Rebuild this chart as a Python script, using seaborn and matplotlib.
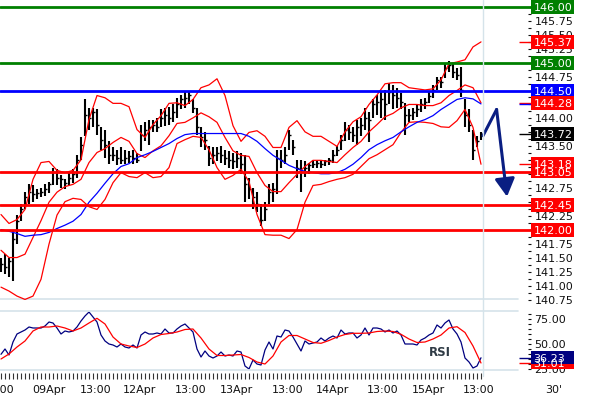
import numpy as np
import matplotlib
matplotlib.use("Agg")
import matplotlib.pyplot as plt
import matplotlib.transforms as mtransforms
from matplotlib.lines import Line2D
from matplotlib.patches import Rectangle
import seaborn as sns

# barras (una cada ~30 min)
highs = [141.51, 141.57, 141.51, 141.98, 142.28, 142.46, 142.69, 142.82, 142.80, 142.73,
         142.76, 142.82, 142.87, 143.12, 143.09, 142.98, 142.91, 143.05, 143.09, 143.35,
         143.66, 144.34, 144.19, 144.19, 144.16, 143.84, 143.80, 143.59, 143.48, 143.44,
         143.48, 143.44, 143.41, 143.44, 143.39, 143.89, 143.93, 143.98, 143.98, 144.01,
         144.16, 144.19, 144.21, 144.25, 144.37, 144.42, 144.48, 144.50, 144.34, 144.19,
         143.84, 143.76, 143.50, 143.48, 143.48, 143.50, 143.44, 143.41, 143.39, 143.41,
         143.39, 143.35, 142.94, 142.76, 142.69, 142.46, 142.50, 142.82, 142.85, 143.44,
         143.44, 143.48, 143.80, 143.62, 143.26, 143.26, 143.23, 143.21, 143.26, 143.26,
         143.25, 143.26, 143.30, 143.44, 143.50, 143.71, 143.93, 143.89, 143.84, 143.98,
         144.01, 144.19, 144.12, 144.34, 144.42, 144.48, 144.51, 144.64, 144.60, 144.55,
         144.46, 144.28, 144.16, 144.19, 144.25, 144.34, 144.37, 144.48, 144.60, 144.75,
         144.75, 145.00, 145.03, 145.00, 144.91, 144.92, 144.34, 144.16, 143.80, 143.68,
         143.76]
lows = [141.26, 141.21, 141.16, 141.09, 141.75, 142.16, 142.37, 142.46, 142.51, 142.55,
        142.59, 142.62, 142.66, 142.80, 142.80, 142.76, 142.73, 142.80, 142.85, 142.94,
        143.26, 143.68, 143.80, 143.84, 143.71, 143.44, 143.30, 143.18, 143.23, 143.16,
        143.18, 143.19, 143.21, 143.18, 143.21, 143.41, 143.59, 143.53, 143.75, 143.76,
        143.84, 143.87, 143.89, 143.94, 144.01, 144.16, 144.19, 144.25, 144.10, 143.71,
        143.48, 143.44, 143.14, 143.18, 143.23, 143.21, 143.16, 143.12, 143.09, 143.12,
        143.00, 142.51, 142.55, 142.37, 142.32, 142.07, 142.16, 142.46, 142.50, 142.64,
        143.12, 143.18, 143.44, 143.35, 142.94, 142.68, 142.96, 143.00, 143.12, 143.12,
        143.12, 143.14, 143.16, 143.21, 143.32, 143.44, 143.59, 143.62, 143.57, 143.53,
        143.68, 143.80, 143.57, 144.01, 144.07, 144.01, 143.98, 144.25, 144.16, 144.19,
        144.16, 143.71, 143.94, 143.98, 144.03, 144.12, 144.16, 144.28, 144.37, 144.51,
        144.55, 144.73, 144.84, 144.73, 144.69, 144.39, 143.85, 143.75, 143.26, 143.48,
        143.62]
closes = [141.39, 141.34, 141.44, 141.84, 142.16, 142.37, 142.59, 142.69, 142.64, 142.66,
          142.69, 142.73, 142.82, 143.05, 142.94, 142.91, 142.84, 142.94, 143.00, 143.26,
          143.53, 144.07, 144.01, 144.12, 143.89, 143.62, 143.53, 143.35, 143.35, 143.30,
          143.26, 143.30, 143.32, 143.30, 143.26, 143.71, 143.80, 143.84, 143.89, 143.85,
          144.01, 144.07, 144.01, 144.12, 144.25, 144.34, 144.37, 144.42, 144.19, 143.84,
          143.66, 143.62, 143.30, 143.35, 143.39, 143.34, 143.30, 143.26, 143.23, 143.30,
          143.18, 142.82, 142.73, 142.59, 142.46, 142.19, 142.37, 142.69, 142.73, 143.30,
          143.26, 143.35, 143.71, 143.48, 143.12, 143.05, 143.12, 143.16, 143.19, 143.21,
          143.19, 143.23, 143.26, 143.35, 143.44, 143.62, 143.80, 143.76, 143.71, 143.84,
          143.89, 144.01, 143.98, 144.25, 144.30, 144.34, 144.25, 144.48, 144.42, 144.37,
          144.30, 144.07, 144.07, 144.12, 144.16, 144.25, 144.30, 144.41, 144.51, 144.69,
          144.66, 144.91, 144.96, 144.84, 144.78, 144.51, 144.07, 143.89, 143.44, 143.59,
          143.72]

# bandas de Bollinger y media (cada 2 barras)
band_idx = list(range(0, 121, 2))
band_upper = [142.28, 142.12, 142.19, 142.37, 142.91, 143.21, 143.23, 143.07, 143.03, 143.07,
              143.26, 143.98, 144.41, 144.37, 144.27, 144.27, 144.21, 143.80, 143.66, 143.89,
              144.05, 144.27, 144.28, 144.23, 144.34, 144.55, 144.60, 144.71, 144.41, 143.87,
              143.59, 143.75, 143.78, 143.68, 143.48, 143.48, 143.84, 143.96, 143.76, 143.68,
              143.68, 143.59, 143.50, 143.76, 143.94, 144.03, 144.25, 144.42, 144.62, 144.64,
              144.64, 144.55, 144.53, 144.51, 144.53, 144.69, 144.98, 145.01, 145.05, 145.28,
              145.37]
band_mid = [141.64, 141.51, 141.51, 141.57, 141.87, 142.17, 142.50, 142.68, 142.78, 142.82,
            142.91, 143.21, 143.39, 143.46, 143.57, 143.66, 143.59, 143.37, 143.30, 143.42,
            143.51, 143.69, 143.91, 143.93, 144.01, 144.10, 144.03, 143.93, 143.66, 143.42,
            143.34, 143.32, 143.03, 142.80, 142.69, 142.69, 142.85, 143.00, 143.14, 143.25,
            143.25, 143.23, 143.21, 143.35, 143.48, 143.59, 143.76, 143.89, 144.03, 144.09,
            144.19, 144.25, 144.25, 144.23, 144.23, 144.28, 144.41, 144.50, 144.60, 144.55,
            144.28]
band_lower = [140.98, 140.91, 140.82, 140.76, 140.82, 141.12, 141.75, 142.27, 142.51, 142.57,
              142.55, 142.42, 142.37, 142.55, 142.85, 143.03, 142.96, 142.94, 143.03, 142.94,
              142.96, 143.12, 143.55, 143.62, 143.68, 143.66, 143.44, 143.12, 142.91, 142.98,
              143.09, 142.87, 142.28, 141.92, 141.91, 141.91, 141.85, 142.01, 142.50, 142.80,
              142.82, 142.87, 142.91, 142.94, 143.00, 143.14, 143.28, 143.35, 143.44, 143.53,
              143.75, 143.93, 143.94, 143.93, 143.91, 143.85, 143.84, 143.96, 144.16, 143.84,
              143.18]
ma_blue = [142.01, 141.98, 141.94, 141.89, 141.91, 141.92, 141.96, 142.03, 142.09, 142.16,
           142.28, 142.50, 142.66, 142.84, 143.01, 143.14, 143.19, 143.30, 143.35, 143.41,
           143.48, 143.55, 143.64, 143.71, 143.73, 143.73, 143.73, 143.73, 143.73, 143.73,
           143.73, 143.68, 143.59, 143.46, 143.34, 143.25, 143.16, 143.10, 143.05, 143.03,
           143.01, 143.01, 143.03, 143.09, 143.18, 143.30, 143.44, 143.53, 143.60, 143.66,
           143.76, 143.85, 143.93, 143.98, 144.05, 144.16, 144.25, 144.34, 144.37, 144.35,
           144.26]

rsi = [39.7, 45, 39, 52, 60, 62, 64, 67, 66, 66,
       66, 68, 72, 71, 66, 60, 63, 62, 63, 67,
       73, 78, 82, 77, 72, 59, 53, 50, 49, 47,
       50, 47, 46, 49, 46, 59, 62, 60, 60, 61,
       60, 65, 61, 61, 65, 68, 70, 66, 62, 45,
       37, 43, 38, 36, 38, 42, 38, 39, 38, 43,
       42, 28, 25, 34, 30, 29, 44, 52, 45, 58,
       57, 64, 63, 57, 50, 43, 53, 50, 51, 52,
       56, 53, 56, 58, 56, 64, 60, 61, 61, 56,
       59, 66, 59, 66, 66, 65, 62, 64, 61, 63,
       59, 50, 50, 50, 49, 54, 56, 59, 61, 69,
       66, 71, 74, 65, 60, 52, 36, 32, 26, 28,
       36.23]
rsi_signal = [35, 40, 47, 53, 63, 67, 67, 68, 66, 63,
              66, 71, 75.7, 70, 57, 50, 48, 46.5, 50, 56,
              59.5, 60.5, 62, 64.5, 65, 56, 45, 38.5, 38.5, 39,
              39.5, 36.5, 32, 30, 38, 52, 58.5, 58.5, 55, 51.5,
              50.7, 53.5, 57, 59.5, 60.7, 60.7, 61, 62.5, 63, 62.5,
              59.7, 55, 51.5, 52, 55, 59, 66, 67.3, 61.5, 48,
              31.01]

# niveles horizontales
green_levels = [146.00, 145.00]
blue_levels = [144.50]
red_levels = [143.05, 142.45, 142.00]

# etiquetas del eje derecho (valor, color)
price_tags = [(146.00, "#008000"), (145.37, "#ff0000"), (145.00, "#008000"),
              (144.50, "#0000ff"), (144.28, "#ff0000"), (143.72, "#000000"),
              (143.18, "#ff0000"), (143.05, "#ff0000"), (142.45, "#ff0000"),
              (142.00, "#ff0000")]
rsi_tags = [(31.01, "#ff0000"), (36.23, "#000080")]

# flecha de prevision
arrow_x = [120.5, 123.9, 126.5]
arrow_y = [143.69, 144.16, 142.60]

time_pos = [-0.5, 11.9, 23.6, 34.75, 47.5, 58.75, 71.75, 82.9, 95.5, 106.75, 119.5]
time_labels = ["13:00", "09Apr", "13:00", "12Apr", "13:00", "13Apr", "13:00",
               "14Apr", "13:00", "15Apr", "13:00"]

sns.set_theme(style="white")
plt.rcParams['font.family'] = ['DejaVu Sans']

W, H = 590, 400
fig = plt.figure(figsize=(5.9, 4.0), dpi=100)


def frac(x0, y0, w, h):
    return [x0 / W, 1 - (y0 + h) / H, w / W, h / H]


ax = fig.add_axes(frac(0, 0, 531, 300))
ax_rsi = fig.add_axes(frac(0, 311, 531, 59))
XMIN, XMAX = -0.25, 132.5
PMIN, PMAX = 140.765, 146.12
RMIN, RMAX = 24, 83
sep_col = "#d5e3ea"
navy = "#0a1e82"

idx = np.arange(len(closes))

# precio
ax.vlines(idx, lows, highs, color="black", lw=1.5, zorder=2)
ax.hlines(closes, idx, idx + 0.5, color="black", lw=1.0, zorder=2)
for vals in (band_upper, band_mid, band_lower):
    sns.lineplot(x=band_idx, y=vals, ax=ax, color="#ff0000", lw=0.9,
                 estimator=None, legend=False, zorder=3)
sns.lineplot(x=band_idx, y=ma_blue, ax=ax, color="#0000ff", lw=0.9,
             estimator=None, legend=False, zorder=3)

for v in green_levels:
    ax.axhline(v, color="#008000", lw=2, zorder=4)
for v in blue_levels:
    ax.axhline(v, color="#0000ff", lw=2, zorder=4)
for v in red_levels:
    ax.axhline(v, color="#ff0000", lw=2, zorder=4)

ax.plot(arrow_x[:2], arrow_y[:2], color=navy, lw=2.2, solid_capstyle="round", zorder=5)
ax.annotate("", xy=(arrow_x[2], arrow_y[2]), xytext=(arrow_x[1], arrow_y[1]),
            arrowprops=dict(arrowstyle="-|>,head_length=0.9,head_width=0.5", color=navy,
                            lw=2.2, shrinkA=0, shrinkB=0, mutation_scale=12),
            annotation_clip=False, zorder=5)

# etiquetas de precio tapadas por los recuadros se dejan vacias
tick_vals = np.arange(140.75, 146.01, 0.25)
covered = {146.00, 145.00, 144.50, 144.25, 143.75, 143.25, 143.00, 142.50, 142.00}
ax.set_xlim(XMIN, XMAX)
ax.set_ylim(PMIN, PMAX)
ax.set_xticks([])
ax.yaxis.tick_right()
ax.set_yticks(tick_vals)
ax.set_yticks(np.arange(140.75, 146.1, 0.125), minor=True)
ax.set_yticklabels(["" if round(v, 2) in covered else f"{v:.2f}" for v in tick_vals])
ax.tick_params(axis="y", which="both", direction="in", length=2.5, width=0.8,
               pad=2.5, labelsize=8, colors="#111111", right=True, left=False)
ax.set_xlabel("")
ax.set_ylabel("")
for s in ax.spines.values():
    s.set_visible(False)
ax.axhline(PMIN, xmax=518 / 531, color=sep_col, lw=1.2, clip_on=False, zorder=1)

# RSI
sns.lineplot(x=idx, y=rsi, ax=ax_rsi, color="#000080", lw=0.9, estimator=None, legend=False)
sns.lineplot(x=band_idx, y=rsi_signal, ax=ax_rsi, color="#ff0000", lw=0.9,
             estimator=None, legend=False)
ax_rsi.set_xlim(XMIN, XMAX)
ax_rsi.set_ylim(RMIN, RMAX)
ax_rsi.set_xticks([])
ax_rsi.yaxis.tick_right()
ax_rsi.set_yticks([25, 50, 75])
ax_rsi.set_yticks(np.arange(25, 81, 5), minor=True)
ax_rsi.set_yticklabels(["25.00", "50.00", "75.00"])
ax_rsi.tick_params(axis="y", which="both", direction="in", length=2.5, width=0.8,
                   pad=2.5, labelsize=8, colors="#111111", right=True, left=False)
ax_rsi.set_xlabel("")
ax_rsi.set_ylabel("")
for s in ax_rsi.spines.values():
    s.set_visible(False)
ax_rsi.axhline(RMAX, xmax=518 / 531, color=sep_col, lw=1.2, clip_on=False)
ax_rsi.axhline(RMIN, xmax=518 / 531, color=sep_col, lw=1.2, clip_on=False)
ax_rsi.text(109.75, 41, "RSI", fontsize=8.5, fontweight="bold", color="#2f3b45",
            ha="center", va="center")

# eje de tiempo
tr = mtransforms.blended_transform_factory(ax_rsi.transData, ax_rsi.transAxes)
ax_rsi.vlines(idx, -0.05, -0.15, transform=tr, color="#333333", lw=0.8, clip_on=False)
for p, lab in zip(time_pos, time_labels):
    ax_rsi.text(p, -0.34, lab, transform=tr, ha="center", va="center", fontsize=8,
                color="#111111", clip_on=False)
ax_rsi.text(138.25, -0.34, "30'", transform=tr, ha="center", va="center", fontsize=8,
            color="#111111", clip_on=False)


def tag(a, value, color, half_h):
    a.add_patch(Rectangle((XMAX, value - half_h), 10.75, 2 * half_h, fc=color, ec="none",
                          clip_on=False, zorder=6))
    a.text(XMAX + 0.6, value, f"{value:.2f}", color="white", fontsize=8, ha="left",
           va="center_baseline", clip_on=False, zorder=7)


# marcadores de valor de los indicadores
ax.hlines([145.37, 144.28, 143.18], 129.5, XMAX, color="#ff0000", lw=1, clip_on=False)
ax.hlines([144.26], 129.5, XMAX, color="#0000ff", lw=1, clip_on=False)
ax.hlines([143.72], 129.5, XMAX, color="black", lw=1, clip_on=False)
ax_rsi.hlines([36.23], 129.5, XMAX, color="#000080", lw=1, clip_on=False)
ax_rsi.hlines([31.01], 129.5, XMAX, color="#ff0000", lw=1, clip_on=False)

for v, c in price_tags:
    tag(ax, v, c, 0.125)
for v, c in rsi_tags:
    tag(ax_rsi, v, c, 6.5)

fig.add_artist(Line2D([483 / W, 483 / W], [1, 1 - 376 / H], color=sep_col, lw=1, zorder=0.5))

fig.savefig("out.png", dpi=100)
